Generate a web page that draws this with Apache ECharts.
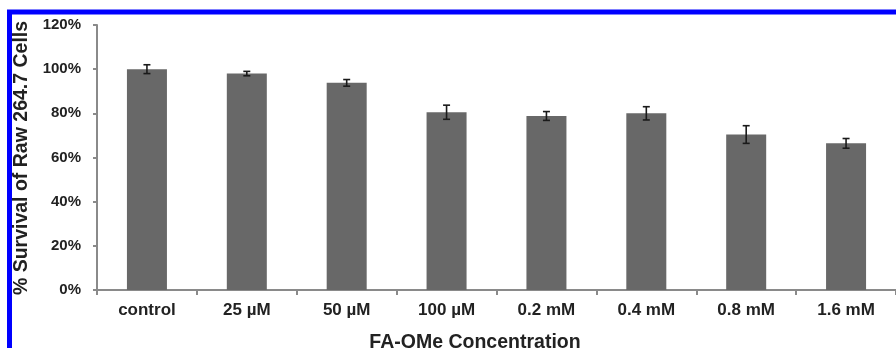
<!DOCTYPE html>
<html>
<head>
<meta charset="utf-8">
<script src="https://cdn.jsdelivr.net/npm/echarts@6/dist/echarts.min.js"></script>
<style>html,body{margin:0;padding:0;background:#fff}#c{width:896px;height:348px}</style>
</head>
<body>
<div id="c"></div>
<script>
const categories = ['control', '25 µM', '50 µM', '100 µM', '0.2 mM', '0.4 mM', '0.8 mM', '1.6 mM'];
const survival = [100, 98, 93.8, 80.5, 78.8, 80, 70.4, 66.4];
const errors = [2, 1, 1.5, 3.2, 2, 3, 4, 2.2];
const yTicks = [0, 20, 40, 60, 80, 100, 120];
const xTitle = 'FA-OMe Concentration';
const yTitle = '% Survival of Raw 264.7 Cells';

const chart = echarts.init(document.getElementById('c'), null, {renderer: 'canvas'});
const FONT = '"Liberation Sans", Arial, sans-serif';
const errData = categories.map((c, i) => [i, survival[i] - errors[i], survival[i] + errors[i]]);

chart.setOption({
  animation: false,
  backgroundColor: '#fff',
  grid: {left: 97, top: 25, width: 802, height: 265, containLabel: false},
  xAxis: {
    type: 'category',
    data: categories,
    boundaryGap: true,
    axisLine: {lineStyle: {color: '#8a8a8a', width: 2}},
    axisTick: {show: true, length: 5, lineStyle: {color: '#8a8a8a', width: 2}},
    axisLabel: {color: '#222', fontFamily: FONT, fontWeight: 'bold', fontSize: 17, margin: 12, interval: 0},
    splitLine: {show: false}
  },
  yAxis: {
    type: 'value',
    min: yTicks[0],
    max: yTicks[yTicks.length - 1],
    interval: yTicks[1] - yTicks[0],
    axisLine: {show: true, lineStyle: {color: '#8a8a8a', width: 2}},
    axisTick: {show: true, length: 4, lineStyle: {color: '#8a8a8a', width: 2}},
    axisLabel: {color: '#222', fontFamily: FONT, fontWeight: 'bold', fontSize: 15, margin: 16, formatter: '{value}%'},
    splitLine: {show: false}
  },
  series: [
    {
      type: 'bar',
      data: survival,
      barWidth: 40,
      itemStyle: {color: '#686868'},
      z: 2
    },
    {
      type: 'custom',
      data: errData,
      z: 5,
      renderItem: function (params, api) {
        const x = api.value(0);
        const lo = api.coord([x, api.value(1)]);
        const hi = api.coord([x, api.value(2)]);
        const hw = 3.5;
        const st = {stroke: '#1a1a1a', lineWidth: 1.6};
        return {
          type: 'group',
          children: [
            {type: 'line', shape: {x1: lo[0], y1: lo[1], x2: hi[0], y2: hi[1]}, style: st},
            {type: 'line', shape: {x1: lo[0] - hw, y1: lo[1], x2: lo[0] + hw, y2: lo[1]}, style: st},
            {type: 'line', shape: {x1: hi[0] - hw, y1: hi[1], x2: hi[0] + hw, y2: hi[1]}, style: st}
          ]
        };
      }
    }
  ],
  graphic: [
    {
      type: 'rect',
      shape: {x: 9.5, y: 12, width: 1000, height: 1000},
      style: {fill: null, stroke: '#0000ff', lineWidth: 5},
      z: 100
    },
    {
      type: 'text',
      x: 475, y: 343,
      style: {text: xTitle, fill: '#222', font: 'bold 19.5px ' + FONT, textAlign: 'center', textVerticalAlign: 'middle'}
    },
    {
      type: 'text',
      x: 21.5, y: 158,
      rotation: Math.PI / 2,
      style: {text: yTitle, fill: '#222', font: 'bold 19.5px ' + FONT, textAlign: 'center', textVerticalAlign: 'middle'}
    }
  ]
});
</script>
</body>
</html>
